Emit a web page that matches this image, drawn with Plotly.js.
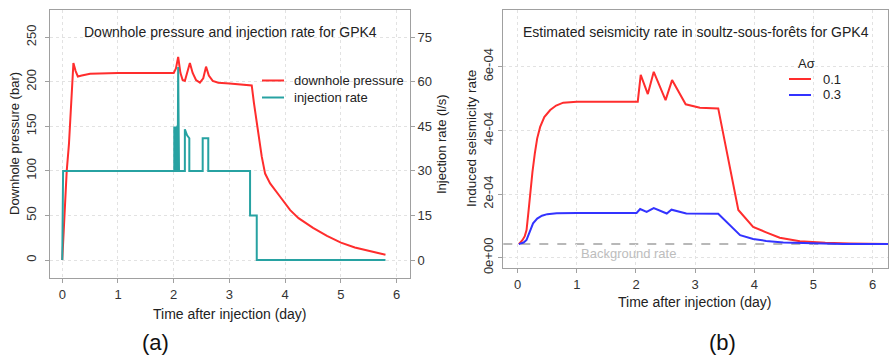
<!DOCTYPE html>
<html>
<head>
<meta charset="utf-8">
<script src="https://cdn.plot.ly/plotly-3.0.1.min.js"></script>
<style>html,body{margin:0;padding:0;background:#fff;}#chart{width:891px;height:361px;}</style>
</head>
<body>
<div id="chart"></div>
<script>
// ---------- Panel (a): downhole pressure & injection rate ----------
const pressureTime = [0, 0.04, 0.08, 0.12, 0.16, 0.2, 0.24, 0.28, 0.35, 0.5, 1.0, 1.5, 2.0, 2.04, 2.08, 2.12, 2.16, 2.2, 2.25, 2.29, 2.34, 2.4, 2.47, 2.53, 2.58, 2.63, 2.7, 2.8, 3.0, 3.2, 3.40, 3.44, 3.49, 3.52, 3.58, 3.64, 3.73, 3.91, 4.09, 4.24, 4.5, 4.75, 5.0, 5.25, 5.5, 5.8];
const pressureBar  = [0, 50, 100, 130, 180, 221, 212, 206, 207, 209, 210, 210, 210, 215, 228, 210, 202, 201, 212, 221, 210, 202, 199, 204, 217, 207, 201, 199, 198, 197, 196, 176, 153, 138, 116, 97, 86, 71, 56, 47, 36, 27, 19.5, 14, 10, 6];

const rateTime = [0, 0.005, 0.015, 0.015, 2.01, 2.01, 2.018, 2.018, 2.024, 2.024, 2.032, 2.032, 2.038, 2.038, 2.046, 2.046, 2.052, 2.052, 2.06, 2.06, 2.066, 2.066, 2.075, 2.08, 2.095, 2.2, 2.2, 2.24, 2.28, 2.28, 2.52, 2.52, 2.62, 2.62, 3.37, 3.37, 3.49, 3.49, 5.8];
const rateLs   = [0, 18, 18, 30, 30, 45, 45, 30, 30, 45, 45, 30, 30, 45, 45, 30, 30, 45, 45, 30, 30, 45, 45, 65, 30, 30, 44, 42, 41, 30, 30, 41, 41, 30, 30, 15, 15, 0, 0];

const pressureTicks = [0, 50, 100, 150, 200, 250];
const rateTicks = [0, 15, 30, 45, 60, 75];
const dayTicks = [0, 1, 2, 3, 4, 5, 6];

// ---------- Panel (b): induced seismicity rate ----------
const seisTime01 = [0.02, 0.08, 0.12, 0.15, 0.18, 0.21, 0.25, 0.29, 0.33, 0.38, 0.45, 0.55, 0.65, 0.77, 1.0, 1.5, 2.03, 2.08, 2.2, 2.3, 2.5, 2.61, 2.84, 3.08, 3.39, 3.73, 3.98, 4.2, 4.43, 4.77, 5.2, 5.61, 6.26];
const seisRate01 = [0.43e-4, 0.55e-4, 0.68e-4, 0.87e-4, 1.4e-4, 2.02e-4, 2.7e-4, 3.28e-4, 3.75e-4, 4.11e-4, 4.42e-4, 4.64e-4, 4.78e-4, 4.87e-4, 4.9e-4, 4.9e-4, 4.9e-4, 5.74e-4, 5.14e-4, 5.84e-4, 4.95e-4, 5.58e-4, 4.82e-4, 4.71e-4, 4.69e-4, 1.5e-4, 0.97e-4, 0.8e-4, 0.63e-4, 0.52e-4, 0.47e-4, 0.45e-4, 0.43e-4];
const seisTime03 = [0.02, 0.1, 0.15, 0.2, 0.26, 0.33, 0.41, 0.5, 0.66, 1.0, 2.01, 2.07, 2.18, 2.3, 2.52, 2.6, 2.85, 3.39, 3.6, 3.76, 3.98, 4.2, 4.49, 5.05, 5.5, 6.26];
const seisRate03 = [0.43e-4, 0.48e-4, 0.56e-4, 0.8e-4, 1.08e-4, 1.23e-4, 1.32e-4, 1.37e-4, 1.40e-4, 1.41e-4, 1.41e-4, 1.53e-4, 1.44e-4, 1.56e-4, 1.39e-4, 1.51e-4, 1.39e-4, 1.38e-4, 1.0e-4, 0.71e-4, 0.59e-4, 0.53e-4, 0.48e-4, 0.44e-4, 0.43e-4, 0.43e-4];
const backgroundRate = 0.43e-4;
const seisTicks = [0, 2e-4, 4e-4, 6e-4];
const seisTickText = ["0e+00", "2e-04", "4e-04", "6e-04"];

// ---------- styling ----------
const W = 891, H = 361;
const px = x => x / W;
const py = y => 1 - y / H;
const RED = "#ff2d2d", TEAL = "#27a2a2", BLUE = "#3333ff";
const FONT = "Liberation Sans, Arial, sans-serif";
const tickFont = {family: FONT, size: 13, color: "#333"};
const axisBase = {
  showline: true, linecolor: "#a0a0a0", linewidth: 1,
  ticks: "outside", ticklen: 4, tickcolor: "#a0a0a0",
  zeroline: false, tickfont: tickFont,
  showgrid: true, gridcolor: "#e2e2e2", griddash: "dot", gridwidth: 1
};

const traces = [
  {x: pressureTime, y: pressureBar, xaxis: "x", yaxis: "y", mode: "lines",
   line: {color: RED, width: 2}, showlegend: false},
  {x: rateTime, y: rateLs, xaxis: "x", yaxis: "y2", mode: "lines",
   line: {color: TEAL, width: 2}, showlegend: false},
  {x: seisTime01, y: seisRate01, xaxis: "x2", yaxis: "y3", mode: "lines",
   line: {color: RED, width: 2}, showlegend: false},
  {x: seisTime03, y: seisRate03, xaxis: "x2", yaxis: "y3", mode: "lines",
   line: {color: BLUE, width: 2}, showlegend: false}
];

const ann = (text, x, y, opts = {}) => Object.assign({
  text, x: px(x), y: py(y), xref: "paper", yref: "paper", showarrow: false,
  xanchor: "center", yanchor: "middle", font: {family: FONT, size: 13, color: "#222"}
}, opts);
const f = size => ({font: {family: FONT, size: size, color: "#222"}});

const layout = {
  width: W, height: H,
  margin: {l: 0, r: 0, t: 0, b: 0},
  paper_bgcolor: "#fff", plot_bgcolor: "#fff",
  showlegend: false,
  xaxis: Object.assign({}, axisBase, {domain: [px(50), px(410)], range: [-0.22, 6.24], anchor: "y",
    tickvals: dayTicks, mirror: true}),
  yaxis: Object.assign({}, axisBase, {domain: [py(278), py(10)], range: [-20.2, 280.6], anchor: "x",
    tickvals: pressureTicks, tickangle: -90, mirror: true, ticklabelstandoff: 4}),
  yaxis2: Object.assign({}, axisBase, {overlaying: "y", side: "right", anchor: "x",
    range: [-6.06, 84.2], tickvals: rateTicks, showgrid: false}),
  xaxis2: Object.assign({}, axisBase, {domain: [px(503.3), px(888)], range: [-0.243, 6.26], anchor: "y3",
    tickvals: dayTicks, mirror: true}),
  yaxis3: Object.assign({}, axisBase, {domain: [py(268.3), py(10)], range: [-3.3e-5, 7.78e-4], anchor: "x2",
    tickvals: seisTicks, ticktext: seisTickText, tickangle: -90, mirror: true}),
  shapes: [
    {type: "line", xref: "x2 domain", yref: "y3", x0: 0, x1: 1, y0: backgroundRate, y1: backgroundRate,
     line: {color: "#b8b8b8", width: 2, dash: "dash"}, layer: "below"},
    // legend samples
    {type: "line", xref: "paper", yref: "paper", x0: px(262), x1: px(284), y0: py(80.5), y1: py(80.5), line: {color: RED, width: 2}},
    {type: "line", xref: "paper", yref: "paper", x0: px(262), x1: px(284), y0: py(97.5), y1: py(97.5), line: {color: TEAL, width: 2}},
    {type: "line", xref: "paper", yref: "paper", x0: px(789), x1: px(811), y0: py(79), y1: py(79), line: {color: RED, width: 2}},
    {type: "line", xref: "paper", yref: "paper", x0: px(789), x1: px(811), y0: py(95), y1: py(95), line: {color: BLUE, width: 2}}
  ],
  annotations: [
    ann("Downhole pressure and injection rate for GPK4", 230, 32, f(14)),
    ann("Estimated seismicity rate in soultz-sous-forêts for GPK4", 696, 32, f(14)),
    ann("downhole pressure", 292, 80.5, {xanchor: "left"}),
    ann("injection rate", 292, 97.5, {xanchor: "left"}),
    ann("Aσ", 806, 63),
    ann("0.1", 821, 79, {xanchor: "left"}),
    ann("0.3", 821, 95, {xanchor: "left"}),
    ann("Downhole pressure (bar)", 14, 144, {textangle: -90}),
    ann("Injection rate (l/s)", 441, 144, {textangle: -90}),
    ann("Induced seismicity rate", 471, 139, Object.assign({textangle: -90}, f(13.5))),
    ann("Time after injection (day)", 230, 314, f(14)),
    ann("Time after injection (day)", 695, 302, f(14)),
    ann("Background rate", 628, 253, {font: {family: FONT, size: 13, color: "#bdbdbd"}}),
    ann("(a)", 155, 342, {font: {family: FONT, size: 22, color: "#111"}}),
    ann("(b)", 722, 342, {font: {family: FONT, size: 22, color: "#111"}})
  ]
};

Plotly.newPlot("chart", traces, layout, {displayModeBar: false, staticPlot: true});
</script>
</body>
</html>
